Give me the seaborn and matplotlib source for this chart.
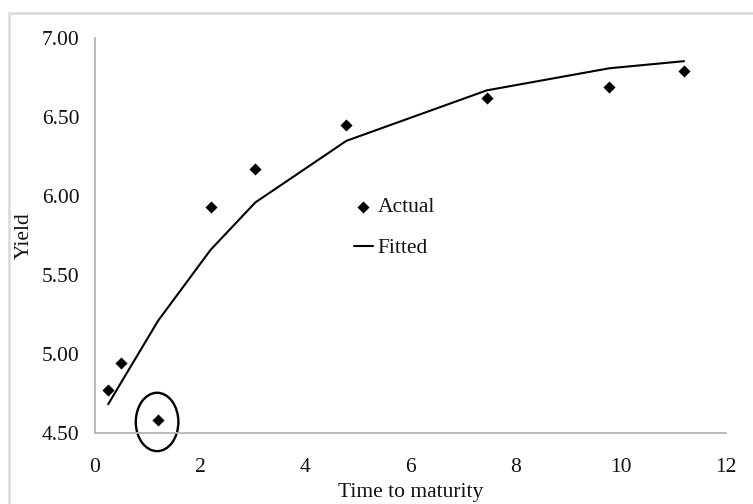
import matplotlib
matplotlib.use("Agg")
import matplotlib.pyplot as plt
from matplotlib.patches import Ellipse, Rectangle
import seaborn as sns
import pandas as pd

# Term structure: observed yields and fitted curve
maturity = [0.25, 0.5, 1.2, 2.2, 3.05, 4.78, 7.45, 9.78, 11.2]
actual_yield = [4.77, 4.94, 4.58, 5.93, 6.17, 6.45, 6.62, 6.69, 6.79]
fitted_yield = [4.68, 4.82, 5.21, 5.66, 5.96, 6.35, 6.67, 6.81, 6.855]

x_ticks = [0, 2, 4, 6, 8, 10, 12]
y_ticks = [4.50, 5.00, 5.50, 6.00, 6.50, 7.00]

df = pd.DataFrame({"Time to maturity": maturity,
                   "Actual": actual_yield,
                   "Fitted": fitted_yield})

sns.set_theme(style="white")
plt.rcParams["font.family"] = ["Liberation Serif", "DejaVu Serif"]
text_color = "#111111"
axis_color = "#b4b4b4"
font_size = 15.5

fig = plt.figure(figsize=(7.53, 5.04), dpi=100)
ax = fig.add_axes([0.1262, 0.1415, 0.838, 0.7825])

sns.lineplot(data=df, x="Time to maturity", y="Fitted", ax=ax,
             color="black", linewidth=1.5, label="Fitted", legend=False)
sns.scatterplot(data=df, x="Time to maturity", y="Actual", ax=ax,
                marker="D", s=38, color="black", linewidth=0,
                label="Actual", legend=False)

# Highlight the outlying short-term observation
ax.add_patch(Ellipse((1.18, 4.568), 0.81, 0.37, fill=False,
                     edgecolor="black", linewidth=1.7, clip_on=False))

ax.set_xlim(0, 12)
ax.set_ylim(4.5, 7.0)
ax.set_xticks(x_ticks)
ax.set_xticklabels([str(t) for t in x_ticks])
ax.set_yticks(y_ticks)
ax.set_yticklabels([f"{t:.2f}" for t in y_ticks])

for side in ("top", "right"):
    ax.spines[side].set_visible(False)
for side in ("left", "bottom"):
    ax.spines[side].set_color(axis_color)
    ax.spines[side].set_linewidth(1.3)

ax.tick_params(axis="both", which="major", labelsize=font_size,
               colors=axis_color, labelcolor=text_color,
               length=3.6, width=1.0, direction="out")
ax.tick_params(axis="y", pad=7.7)
ax.tick_params(axis="x", pad=14.5)

ax.set_xlabel("Time to maturity", fontsize=font_size, color=text_color,
              labelpad=4.5)
ax.set_ylabel("Yield", fontsize=font_size, color=text_color, labelpad=5.5)

handles, labels = ax.get_legend_handles_labels()
order = [labels.index("Actual"), labels.index("Fitted")]
leg = ax.legend([handles[i] for i in order], [labels[i] for i in order],
                loc="upper left", bbox_to_anchor=(0.41, 0.597),
                frameon=False, fontsize=font_size, handlelength=0.88,
                handletextpad=0.22, labelspacing=0.98,
                borderpad=0, borderaxespad=0, markerscale=1.0)
for t in leg.get_texts():
    t.set_color(text_color)

# Light chart-area border running off the right and bottom edges
fig.patches.append(Rectangle((8.7 / 753, -0.2), 1.2, 1.2 - 13.3 / 504,
                             transform=fig.transFigure, fill=False,
                             edgecolor="#d9d9d9", linewidth=1.8))

fig.savefig("out.png", dpi=100)
